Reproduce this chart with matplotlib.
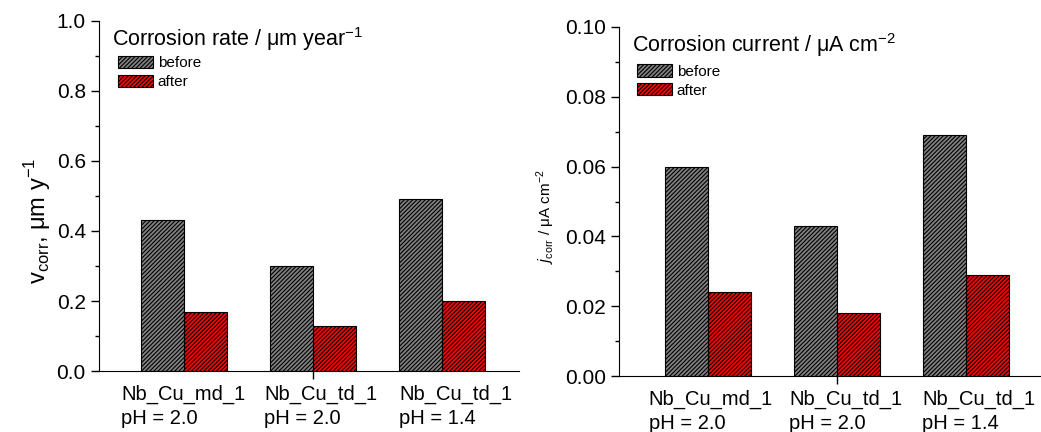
import matplotlib.pyplot as plt
import matplotlib as mpl
import numpy as np

plt.rcParams['font.family'] = ['Liberation Sans', 'DejaVu Sans']
plt.rcParams['hatch.linewidth'] = 0.8
plt.rcParams['hatch.color'] = 'black'

samples = ['Nb_Cu_md_1\npH = 2.0', 'Nb_Cu_td_1\npH = 2.0', 'Nb_Cu_td_1\npH = 1.4']
rate_before = [0.43, 0.30, 0.49]
rate_after = [0.17, 0.13, 0.20]
curr_before = [0.060, 0.043, 0.069]
curr_after = [0.024, 0.018, 0.029]

gray = '#808080'
red = '#ff0000'
x = np.arange(1, 4)
w = 1 / 3
hatch = '////////'

fig = plt.figure(figsize=(10.41, 4.32), dpi=100)
ax1 = fig.add_axes([0.0951, 0.1412, 0.4035, 0.8102])
ax2 = fig.add_axes([0.5946, 0.1296, 0.4054, 0.8079])


def draw(ax, before, after, ymax, step, minor, title, ylabel, ylab_size, ylab_pos,
         label_x, xlim, fmt, leg_pos):
    ax.bar(x - w / 2, before, w, color=gray, edgecolor='black', hatch=hatch, linewidth=0.8, label='before')
    ax.bar(x + w / 2, after, w, color=red, edgecolor='black', hatch=hatch, linewidth=0.8, label='after')
    ax.set_xlim(*xlim)
    ax.set_ylim(0, ymax)
    ax.set_yticks(np.arange(0, ymax + step / 2, step))
    ax.set_yticks(np.arange(0, ymax + minor / 2, minor), minor=True)
    ax.yaxis.set_major_formatter(mpl.ticker.FormatStrFormatter(fmt))
    ax.set_xticks([2])
    ax.set_xticklabels([''])
    ax.spines['top'].set_visible(False)
    ax.spines['right'].set_visible(False)
    ax.tick_params(axis='y', which='major', direction='out', length=6, labelsize=15, width=1)
    ax.tick_params(axis='y', which='minor', direction='out', length=3, width=1)
    ax.tick_params(axis='x', direction='out', length=6, width=1)
    ax.set_ylabel(ylabel, fontsize=ylab_size)
    ax.yaxis.set_label_coords(*ylab_pos)
    ax.text(0.031, 0.929, title, transform=ax.transAxes, fontsize=15.5, va='baseline', ha='left')
    ax.legend(loc='upper left', bbox_to_anchor=leg_pos, frameon=False, fontsize=11,
              handlelength=2.3, handleheight=0.85, handletextpad=0.3, labelspacing=0.3,
              borderaxespad=0, borderpad=0.0)
    trans = mpl.transforms.blended_transform_factory(ax.transData, ax.transAxes)
    for lx, s in zip(label_x, samples):
        ax.text(lx, -0.04, s, transform=trans, ha='left', va='top', fontsize=14.5,
                linespacing=1.3)


draw(ax1, rate_before, rate_after, 1.0, 0.2, 0.1,
     r'Corrosion rate / $\mathregular{\mu}$m year$^{\mathregular{-1}}$',
     r'v$_{\mathregular{corr}}$, $\mathregular{\mu}$m y$^{\mathregular{-1}}$', 17, (-0.11, 0.43),
     [0.51, 1.62, 2.67], (0.34, 3.6), '%.1f', (0.045, 0.9))
draw(ax2, curr_before, curr_after, 0.10, 0.02, 0.01,
     r'Corrosion current / $\mathregular{\mu}$A cm$^{\mathregular{-2}}$',
     r'$j_{\mathregular{corr}}$ / $\mathregular{\mu}$A cm$^{\mathregular{-2}}$', 11, (-0.147, 0.458),
     [0.54, 1.63, 2.66], (0.31, 3.58), '%.2f', (0.043, 0.893))

fig.savefig('out.png', dpi=100)
